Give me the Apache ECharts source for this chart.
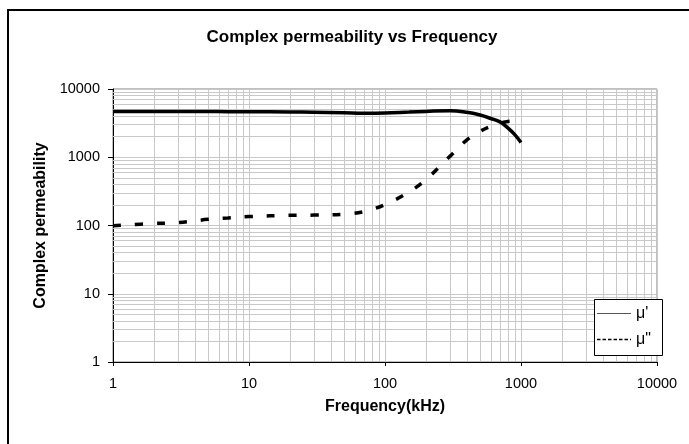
<!DOCTYPE html>
<html>
<head>
<meta charset="utf-8">
<script src="https://cdn.jsdelivr.net/npm/echarts@6/dist/echarts.min.js"></script>
<style>
html,body{margin:0;padding:0;background:#fff;}
#chart{width:689px;height:444px;}
</style>
</head>
<body>
<div id="chart"></div>
<script>
// Data
const frequency = [1, 2, 3, 5, 7, 10, 20, 30, 50, 70, 100, 150, 200, 300, 400, 500, 600, 700, 800, 900, 1000];
const muReal = [4700, 4700, 4700, 4680, 4650, 4640, 4600, 4560, 4480, 4420, 4450, 4600, 4700, 4800, 4550, 4150, 3700, 3300, 2700, 2150, 1650];
const muImag = [99, 107, 110, 123, 129, 135, 141, 142, 146, 160, 203, 310, 470, 1030, 1800, 2400, 2850, 3150, 3350, 3380, 3300];
const seriesNames = ["\u03bc'", "\u03bc\""];
const titleText = 'Complex permeability vs Frequency';
const xName = 'Frequency(kHz)';
const yName = 'Complex permeability';
const xMajor = [1, 10, 100, 1000, 10000];
const yMajor = [1, 10, 100, 1000, 10000];

// minor grid lines (2..9 within each decade)
const minorX = [];
xMajor.slice(0, -1).forEach(d => { for (let k = 2; k <= 9; k++) minorX.push(d * k); });
const minorY = [];
yMajor.slice(0, -1).forEach(d => { for (let k = 2; k <= 9; k++) minorY.push(d * k); });

const font = 'Liberation Sans, Arial, sans-serif';
const chart = echarts.init(document.getElementById('chart'), null, {renderer: 'canvas'});

const gridColor = '#c8c8c8';
const fmt = v => String(v);

// legend box drawn as graphic (real text)
const lgX = 594.5, lgY = 299.5, lgW = 68, lgH = 56;
const legendGraphic = [
  {type: 'rect', shape: {x: lgX, y: lgY, width: lgW, height: lgH},
   style: {fill: '#fff', stroke: '#000', lineWidth: 1}, silent: true, z: 50},
  {type: 'line', shape: {x1: 597, y1: 313.5, x2: 631, y2: 313.5},
   style: {stroke: '#555', lineWidth: 1}, silent: true, z: 51},
  {type: 'line', shape: {x1: 597, y1: 339.5, x2: 631, y2: 339.5},
   style: {stroke: '#000', lineWidth: 1.5, lineDash: [3.5, 2]}, silent: true, z: 51},
  {type: 'text', x: 636, y: 314, silent: true, z: 51,
   style: {text: seriesNames[0], fill: '#000', font: '16px ' + font, verticalAlign: 'middle', align: 'left'}},
  {type: 'text', x: 636, y: 340, silent: true, z: 51,
   style: {text: seriesNames[1], fill: '#000', font: '16px ' + font, verticalAlign: 'middle', align: 'left'}}
];

chart.setOption({
  animation: false,
  backgroundColor: '#fff',
  title: {
    text: titleText,
    left: 352,
    top: 29,
    padding: 0,
    textAlign: 'center',
    textStyle: {fontFamily: font, fontSize: 17, fontWeight: 'bold', color: '#000'}
  },
  graphic: [{
    type: 'rect',
    shape: {x: 8, y: 10, width: 720, height: 480},
    style: {fill: null, stroke: '#000', lineWidth: 2},
    silent: true,
    z: 100
  }].concat(legendGraphic),
  grid: {
    left: 113, top: 89, right: 32, bottom: 82,
    show: true, borderColor: '#808080', borderWidth: 1, backgroundColor: '#fff'
  },
  xAxis: {
    type: 'log',
    logBase: 10,
    min: 1,
    max: 10000,
    name: xName,
    nameLocation: 'middle',
    nameGap: 37,
    nameTextStyle: {fontFamily: font, fontSize: 16, fontWeight: 'bold', color: '#000'},
    axisLine: {show: true, onZero: false, lineStyle: {color: '#000', width: 1}},
    axisTick: {show: true, length: 4, lineStyle: {color: '#000'}},
    axisLabel: {fontFamily: font, fontSize: 14.5, color: '#000', margin: 14, formatter: fmt},
    splitLine: {show: true, lineStyle: {color: gridColor, width: 1}}
  },
  yAxis: {
    type: 'log',
    logBase: 10,
    min: 1,
    max: 10000,
    name: yName,
    nameLocation: 'middle',
    nameGap: 62,
    nameTextStyle: {fontFamily: font, fontSize: 16, fontWeight: 'bold', color: '#000'},
    axisLine: {show: true, onZero: false, lineStyle: {color: '#000', width: 1}},
    axisTick: {show: true, length: 5, lineStyle: {color: '#000'}},
    axisLabel: {fontFamily: font, fontSize: 14.5, color: '#000', margin: 13, formatter: fmt},
    splitLine: {show: true, lineStyle: {color: gridColor, width: 1}}
  },
  series: [
    {
      name: 'grid-minor',
      type: 'line',
      data: [],
      silent: true,
      z: 1,
      markLine: {
        silent: true,
        z: 1,
        symbol: ['none', 'none'],
        label: {show: false},
        lineStyle: {color: gridColor, type: 'solid', width: 1},
        emphasis: {disabled: true},
        data: minorX.map(v => ({xAxis: v})).concat(minorY.map(v => ({yAxis: v})))
      }
    },
    {
      name: seriesNames[0],
      type: 'line',
      data: frequency.map((f, i) => [f, muReal[i]]),
      smooth: 0.4,
      symbol: 'none',
      z: 3,
      lineStyle: {color: '#000', width: 3.5}
    },
    {
      name: seriesNames[1],
      type: 'line',
      data: frequency.map((f, i) => [f, muImag[i]]),
      smooth: 0.4,
      symbol: 'none',
      z: 3,
      lineStyle: {color: '#000', width: 3.5, type: [8, 14]}
    }
  ]
});
</script>
</body>
</html>
